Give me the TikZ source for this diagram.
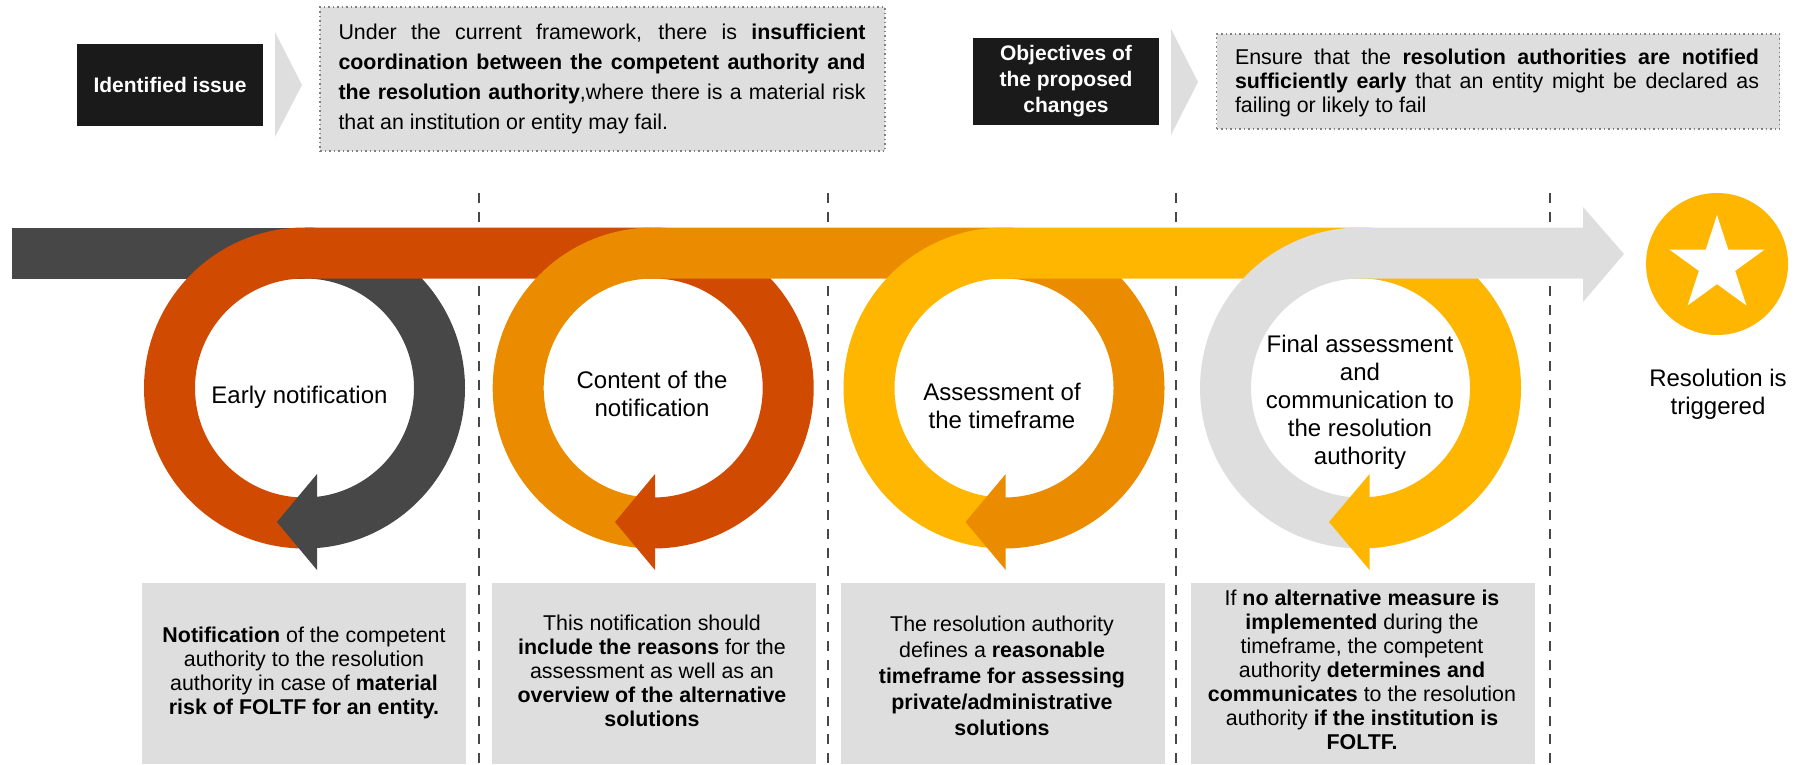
\documentclass[tikz,border=0pt]{standalone}
\usepackage{fontspec}
\usepackage{xcolor}
\setmainfont{Liberation Sans}
\usetikzlibrary{positioning,shapes.geometric}
\definecolor{FlowDark}{RGB}{71,71,71}
\definecolor{FlowRed}{RGB}{208,74,2}
\definecolor{FlowOrange}{RGB}{235,140,0}
\definecolor{FlowYellow}{RGB}{255,182,0}
\definecolor{FlowGrey}{RGB}{222,222,222}
\definecolor{BoxBlack}{RGB}{26,26,26}
\tikzset{
    ring/.style={line width=51pt},
    chevron/.style={fill=FlowGrey},
    divider/.style={draw=FlowDark, line width=2pt, dash pattern=on 10pt off 8.67pt},
    issue_box/.style={rectangle, fill=BoxBlack, text=white, align=center, inner sep=0pt, font=\fontsize{21}{26}\selectfont\bfseries},
    note_box/.style={rectangle, fill=FlowGrey, draw=gray, line width=1.5pt, dash pattern=on 1.5pt off 3pt, inner sep=0pt},
    note_text/.style={inner sep=0pt, align=justify},
    detail_box/.style={rectangle, fill=FlowGrey, inner sep=0pt, anchor=north, minimum height=181pt},
    detail_text/.style={align=center, inner sep=0pt, font=\fontsize{21.4}{24}\selectfont},
    step_label/.style={align=center, inner sep=0pt, font=\fontsize{24}{28}\selectfont}
}
\begin{document}
\begin{tikzpicture}[x=1pt, y=-1pt]
    \useasboundingbox (0,0) rectangle (1803,764);

    % --- TOP BOXES ---
    \node[issue_box, minimum width=186pt, minimum height=82pt] (issue) at (170,85) {Identified issue};
    \fill[chevron] (275,32) -- (302,85) -- (275,137) -- cycle;
    \node[note_box, minimum width=565pt, minimum height=144pt] (issue_note) at (602.5,79) {};
    \node[note_text, text width=527pt, font=\fontsize{21.4}{30}\selectfont] (issue_text) at (602,79) {Under the current framework, there is \textbf{insufficient\linebreak coordination between the competent authority and\linebreak the resolution authority},where there is a material risk\linebreak that an institution or entity may fail.};

    \node[issue_box, minimum width=186pt, minimum height=87pt] (goal) at (1066,81.5) {Objectives of\\the proposed\\changes};
    \fill[chevron] (1171,29) -- (1198,82) -- (1171,135) -- cycle;
    \node[note_box, minimum width=563pt, minimum height=95pt] (goal_note) at (1498,81.5) {};
    \node[note_text, text width=524pt, font=\fontsize{21.4}{24}\selectfont] (goal_text) at (1497,83) {Ensure that the \textbf{resolution authorities are notified\linebreak sufficiently early} that an entity might be declared as\linebreak failing or likely to fail};

    % --- DIVIDERS ---
    \foreach \divx in {478.5,828,1176,1550} {
        \draw[divider] (\divx,193) -- (\divx,764);
    }

    % --- FLOW: BAR AND LOOPS ---
    \draw[ring, FlowDark] (12,253) -- (304.5,253);
    \foreach \cx/\nextx/\tipx/\backx/\prev/\cur in {
        304.5/653.2/277/317/FlowDark/FlowRed,
        653.2/1004/615/655/FlowRed/FlowOrange,
        1004/1360.5/965.5/1005.7/FlowOrange/FlowYellow,
        1360.5/1583/1329/1369.6/FlowYellow/FlowGrey} {
        % right half in the old colour
        \draw[ring, \prev] (\cx,253) arc[start angle=90, end angle=-90, radius=135pt];
        % left half and bar in the new colour
        \draw[ring, \cur] (\cx,523) arc[start angle=270, end angle=90, radius=135pt] -- (\nextx,253);
        % arrow head
        \fill[\prev] (\backx,474) -- (\tipx,522) -- (\backx,570) -- cycle;
    }
    \fill[FlowGrey] (1583,207) -- (1624,254) -- (1583,302) -- cycle;

    % --- LOOP LABELS ---
    \node[step_label] (step_a) at (299.5,397) {Early notification};
    \node[step_label] (step_b) at (652,394) {Content of the\\notification};
    \node[step_label] (step_c) at (1002,406) {Assessment of\\the timeframe};
    \node[step_label] (step_d) at (1360,402) {Final assessment\\and\\communication to\\the resolution\\authority};

    % --- END POINT ---
    \node[circle, fill=FlowYellow, minimum size=142pt, inner sep=0pt] (end_circle) at (1717,264) {};
    \node[star, star points=5, star point ratio=2.618, fill=white, minimum size=100pt, inner sep=0pt] (end_star) at (1717,265) {};
    \node[step_label] (end_label) at (1718,394) {Resolution is\\triggered};

    % --- DETAIL BOXES ---
    \node[detail_box, minimum width=324pt] (detail_a) at (304,583) {};
    \node[detail_box, minimum width=324pt] (detail_b) at (654,583) {};
    \node[detail_box, minimum width=324pt] (detail_c) at (1003,583) {};
    \node[detail_box, minimum width=344pt] (detail_d) at (1363,583) {};

    \node[detail_text] (text_a) at (304,673) {\textbf{Notification} of the competent\\authority to the resolution\\authority in case of \textbf{material}\\\textbf{risk of FOLTF for an entity.}};
    \node[detail_text] (text_b) at (652,671) {This notification should\\\textbf{include the reasons} for the\\assessment as well as an\\\textbf{overview of the alternative}\\\textbf{solutions}};
    \node[detail_text, font=\fontsize{21.4}{26}\selectfont] (text_c) at (1002,676) {The resolution authority\\defines a \textbf{reasonable}\\\textbf{timeframe for assessing}\\\textbf{private/administrative}\\\textbf{solutions}};
    \node[detail_text] (text_d) at (1362,670) {If \textbf{no alternative measure is}\\\textbf{implemented} during the\\timeframe, the competent\\authority \textbf{determines and}\\\textbf{communicates} to the resolution\\authority \textbf{if the institution is}\\\textbf{FOLTF.}};
\end{tikzpicture}
\end{document}
